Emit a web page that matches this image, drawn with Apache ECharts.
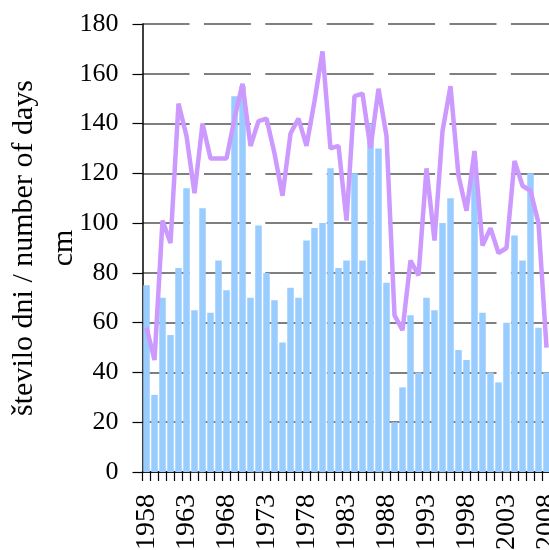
<!DOCTYPE html>
<html>
<head>
<meta charset="utf-8">
<script src="https://cdn.jsdelivr.net/npm/echarts@6/dist/echarts.min.js"></script>
<style>
html,body{margin:0;padding:0;background:#fff;}
#c{width:549px;height:550px;}
</style>
</head>
<body>
<div id="c"></div>
<script>
var years = ['1958','1959','1960','1961','1962','1963','1964','1965','1966','1967',
  '1968','1969','1970','1971','1972','1973','1974','1975','1976','1977',
  '1978','1979','1980','1981','1982','1983','1984','1985','1986','1987',
  '1988','1989','1990','1991','1992','1993','1994','1995','1996','1997',
  '1998','1999','2000','2001','2002','2003','2004','2005','2006','2007','2008'];
var days = [75,31,70,55,82,114,65,106,64,85,
  73,151,155,70,99,80,69,52,74,70,
  93,98,100,122,82,85,120,85,140,130,
  76,20,34,63,40,70,65,100,110,49,
  45,125,64,40,36,60,95,85,120,58,40];
var depth = [58,45,101,92,148,135,112,140,126,126,
  126,142,156,131,141,142,128,111,136,142,
  131,149,169,130,131,101,151,152,130,154,
  135,63,57,85,79,122,93,137,155,119,
  105,129,91,98,88,90,125,115,113,100,50];
var yTicks = [0,20,40,60,80,100,120,140,160,180];
var axisTitle = 'število dni / number of days\ncm';

var font = 'Liberation Serif';
var chart = echarts.init(document.getElementById('c'), null, {renderer:'canvas'});
chart.setOption({
  animation:false,
  backgroundColor:'#ffffff',
  grid:{left:142.5, top:24, width:408, height:448, containLabel:false, outerBoundsMode:'none'},
  xAxis:{
    type:'category',
    data:years,
    boundaryGap:true,
    axisLine:{show:true, lineStyle:{color:'#000', width:1.5}},
    axisTick:{show:true, interval:0, length:9, lineStyle:{color:'#000', width:1.2}},
    axisLabel:{interval:4, rotate:90, margin:22, color:'#000', fontFamily:font, fontSize:28},
    splitLine:{show:false}
  },
  yAxis:{
    type:'value',
    min:yTicks[0], max:yTicks[yTicks.length-1], interval:20,
    name:axisTitle,
    nameLocation:'middle',
    nameGap:58,
    nameMoveOverlap:false,
    nameTextStyle:{color:'#000', fontFamily:font, fontSize:30, lineHeight:40},
    axisLine:{show:true, lineStyle:{color:'#000', width:1.5}},
    axisTick:{show:true, length:10, lineStyle:{color:'#000', width:1.2}},
    axisLabel:{margin:24, color:'#000', fontFamily:font, fontSize:26},
    splitLine:{show:true, lineStyle:{color:'#555', width:1.5, type:[47,14.4], dashOffset:0}}
  },
  series:[
    {type:'bar', data:days, barCategoryGap:'19%', itemStyle:{color:'#99CCFF'}, z:2},
    {type:'line', data:depth, symbol:'none', smooth:false, lineStyle:{color:'#CC99FF', width:4.5}, itemStyle:{color:'#CC99FF'}, z:3}
  ]
});
</script>
</body>
</html>
